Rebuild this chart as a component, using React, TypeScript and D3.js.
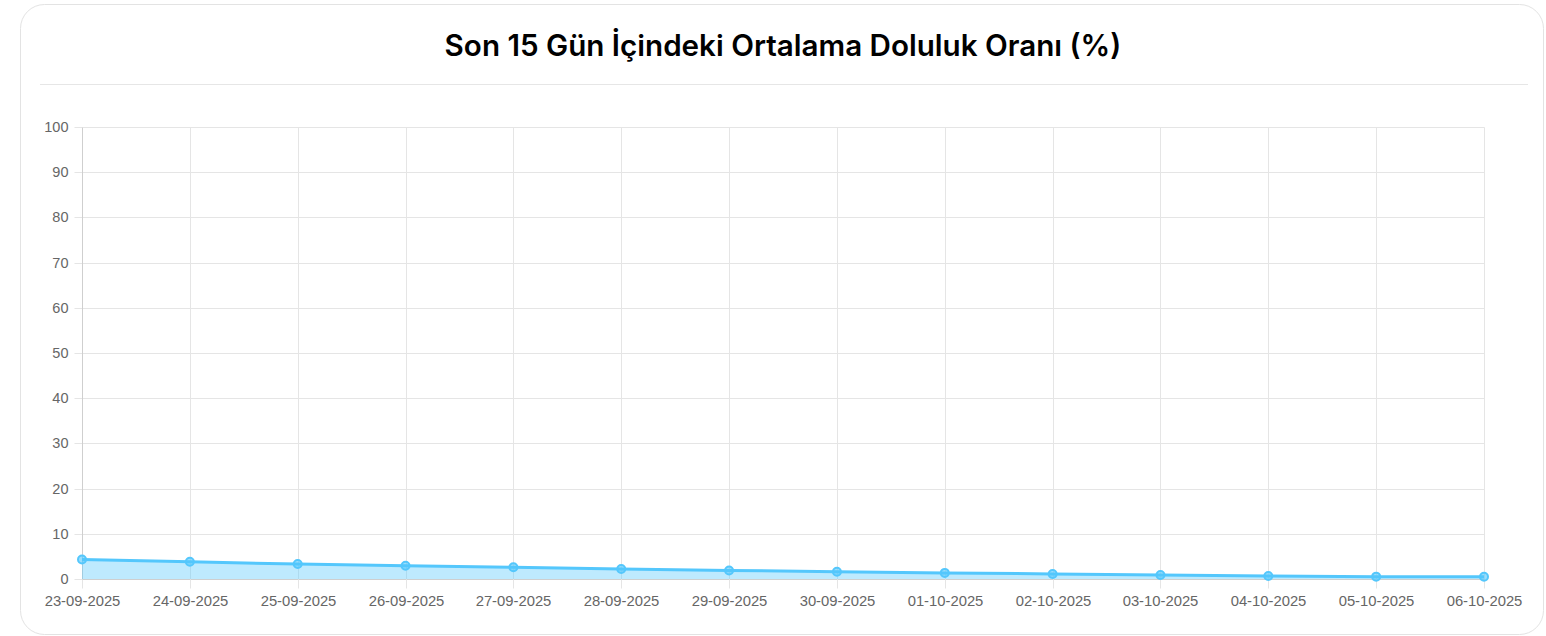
import React, { useRef, useEffect } from "react";
import * as d3 from "d3";

const dates = [
  "23-09-2025", "24-09-2025", "25-09-2025", "26-09-2025", "27-09-2025",
  "28-09-2025", "29-09-2025", "30-09-2025", "01-10-2025", "02-10-2025",
  "03-10-2025", "04-10-2025", "05-10-2025", "06-10-2025",
];
const occupancy = [4.3, 3.8, 3.3, 2.95, 2.6, 2.2, 1.9, 1.6, 1.35, 1.12, 0.9, 0.68, 0.52, 0.5];
const yTickValues = [0, 10, 20, 30, 40, 50, 60, 70, 80, 90, 100];
const title = "Son 15 Gün İçindeki Ortalama Doluluk Oranı (%)";

const W = 1546;
const H = 636;
const plot = { left: 82, right: 1484, top: 127, bottom: 579 };

const App = () => {
  const ref: any = useRef();

  useEffect(() => {
    const svg = d3.select(ref.current);
    svg.selectAll("*").remove();

    // card
    svg.append("rect")
      .attr("x", 20.5).attr("y", 4.5)
      .attr("width", 1523).attr("height", 630)
      .attr("rx", 24)
      .attr("fill", "#fff")
      .attr("stroke", "#e3e3e3");

    svg.append("text")
      .attr("x", 783).attr("y", 56)
      .attr("text-anchor", "middle")
      .attr("font-family", "Inter, sans-serif")
      .attr("font-weight", 600)
      .attr("font-size", 29.6)
      .attr("fill", "#000")
      .text(title);

    svg.append("line")
      .attr("x1", 40).attr("x2", 1528)
      .attr("y1", 84.5).attr("y2", 84.5)
      .attr("stroke", "#e6e6e6");

    const x = d3.scalePoint<string>().domain(dates).range([plot.left, plot.right]);
    const y = d3.scaleLinear().domain([0, 100]).range([plot.bottom, plot.top]);

    // horizontal grid + y ticks
    const yAxis = svg.append("g")
      .attr("transform", `translate(${plot.left + 0.5},0)`)
      .call(d3.axisLeft(y).tickValues(yTickValues).tickSize(8).tickPadding(6));
    yAxis.select(".domain").remove();
    yAxis.selectAll(".tick line").attr("stroke", "#e5e5e5");
    yAxis.selectAll(".tick").append("line")
      .attr("x1", 0).attr("x2", plot.right - plot.left)
      .attr("stroke", (d: any) => (d === 0 ? "#cfcfcf" : "#e5e5e5"));
    yAxis.selectAll(".tick").attr("transform", (d: any) => `translate(0,${Math.round(y(d)) + 0.5})`);
    yAxis.selectAll("text")
      .attr("fill", "#666")
      .attr("font-family", "'Liberation Sans', Arial, sans-serif")
      .attr("font-size", 14.5);

    // vertical grid + x ticks
    const xAxis = svg.append("g")
      .attr("transform", `translate(0,${plot.bottom + 0.5})`)
      .call(d3.axisBottom(x).tickSize(9).tickPadding(7));
    xAxis.select(".domain").remove();
    xAxis.selectAll(".tick line").attr("stroke", "#e5e5e5");
    xAxis.selectAll(".tick").append("line")
      .attr("y1", 0).attr("y2", -(plot.bottom - plot.top))
      .attr("stroke", (d: any, i: number) => (i === 0 ? "#cfcfcf" : "#e5e5e5"));
    xAxis.selectAll(".tick").attr("transform", (d: any) => `translate(${Math.round(x(d)!) + 0.5},0)`);
    xAxis.selectAll("text")
      .attr("fill", "#666")
      .attr("font-family", "'Liberation Sans', Arial, sans-serif")
      .attr("font-size", 14.8);

    const pts = dates.map((d, i) => ({ d, v: occupancy[i] }));

    const area = d3.area<any>()
      .x((p) => x(p.d)!)
      .y0(y(0))
      .y1((p) => y(p.v));
    svg.append("path")
      .datum(pts)
      .attr("d", area)
      .attr("fill", "rgba(84,199,252,0.38)");

    const line = d3.line<any>()
      .x((p) => x(p.d)!)
      .y((p) => y(p.v));
    svg.append("path")
      .datum(pts)
      .attr("d", line)
      .attr("fill", "none")
      .attr("stroke", "#54c7fc")
      .attr("stroke-width", 3);

    svg.selectAll(".pt")
      .data(pts)
      .enter()
      .append("circle")
      .attr("cx", (p: any) => x(p.d)!)
      .attr("cy", (p: any) => y(p.v))
      .attr("r", 4)
      .attr("fill", "rgba(84,199,252,0.6)")
      .attr("stroke", "#54c7fc")
      .attr("stroke-width", 2);
  }, []);

  return (
    <svg
      ref={ref}
      width={W}
      height={H}
      style={{ position: "absolute", left: 0, top: 0, background: "#fff" }}
    ></svg>
  );
};

export default App;
